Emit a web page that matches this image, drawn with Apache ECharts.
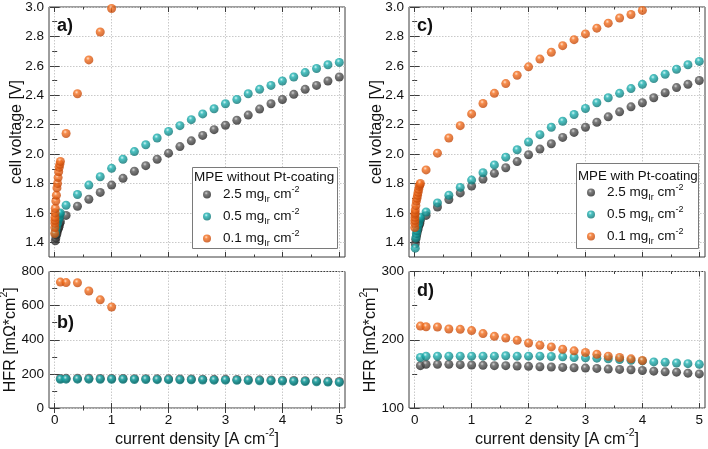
<!DOCTYPE html>
<html><head><meta charset="utf-8">
<script src="https://cdn.jsdelivr.net/npm/echarts@6/dist/echarts.min.js"></script>
<style>html,body{margin:0;padding:0;background:#fff}#c{width:708px;height:449px}</style>
</head><body><div id="c"></div>
<script>
// ---------------- DATA ----------------
const jLow  = [0.01,0.02,0.03,0.04,0.05,0.06,0.07,0.08,0.09,0.10];
const jMain = [0.2,0.4,0.6,0.8,1.0,1.2,1.4,1.6,1.8,2.0,2.2,2.4,2.6,2.8,3.0,3.2,3.4,3.6,3.8,4.0,4.2,4.4,4.6,4.8,5.0];
const jHFR  = [0.1,0.2,0.4,0.6,0.8,1.0,1.2,1.4,1.6,1.8,2.0,2.2,2.4,2.6,2.8,3.0,3.2,3.4,3.6,3.8,4.0,4.2,4.4,4.6,4.8,5.0];

// a) polarization, MPE without Pt-coating
const aGrayLowV = [1.41,1.43,1.45,1.46,1.48,1.49,1.50,1.51,1.53,1.54];
const aGrayV    = [1.583,1.645,1.693,1.739,1.789,1.835,1.883,1.921,1.965,2.006,2.051,2.090,2.127,2.166,2.196,2.230,2.265,2.306,2.342,2.371,2.406,2.440,2.467,2.497,2.524];
const aCyanLowV = [1.46,1.48,1.50,1.52,1.53,1.55,1.56,1.57,1.59,1.60];
const aCyanV    = [1.652,1.725,1.789,1.846,1.903,1.965,2.017,2.063,2.109,2.154,2.193,2.234,2.273,2.308,2.342,2.371,2.410,2.440,2.467,2.497,2.524,2.554,2.582,2.607,2.623];
const aOrangeJ  = [0.001,0.002,0.003,0.004,0.005,0.0075,0.01,0.02,0.03,0.04,0.05,0.06,0.07,0.08,0.09,0.10,0.2,0.4,0.6,0.8,1.0];
const aOrangeV  = [1.46,1.50,1.53,1.55,1.57,1.60,1.63,1.68,1.72,1.77,1.80,1.84,1.88,1.91,1.93,1.95,2.14,2.41,2.64,2.83,2.99];

// b) HFR, MPE without Pt-coating
const bGrayV   = [173,174,174,174,173,173,173,172,172,171,171,170,170,169,168,168,167,166,165,164,163,161,160,159,157,155];
const bCyanV   = [168,169,169,169,168,168,168,167,167,166,166,165,165,164,163,163,162,161,160,159,158,156,155,154,152,150];
const bOrangeJ = [0.1,0.2,0.4,0.6,0.8,1.0];
const bOrangeV = [738,735,734,686,634,592];

// c) polarization, MPE with Pt-coating
const cGrayLowV = [1.39,1.42,1.44,1.46,1.48,1.49,1.51,1.52,1.53,1.55];
const cGrayV    = [1.583,1.640,1.691,1.736,1.782,1.830,1.869,1.907,1.949,1.995,2.034,2.070,2.113,2.147,2.182,2.216,2.253,2.287,2.321,2.349,2.383,2.417,2.452,2.474,2.500];
const cCyanLowV = [1.36,1.43,1.46,1.48,1.50,1.52,1.53,1.55,1.56,1.57];
const cCyanV    = [1.606,1.668,1.720,1.773,1.823,1.873,1.926,1.979,2.029,2.082,2.132,2.182,2.223,2.269,2.310,2.349,2.383,2.413,2.445,2.474,2.513,2.543,2.577,2.607,2.630];
const cOrangeLowJ = [0.001,0.002,0.003,0.004,0.005,0.0075,0.01,0.02,0.03,0.04,0.05,0.06,0.07,0.08,0.09,0.10];
const cOrangeLowV = [1.50,1.53,1.55,1.57,1.59,1.60,1.62,1.65,1.68,1.70,1.72,1.74,1.76,1.78,1.79,1.80];
const cOrangeJ  = [0.2,0.4,0.6,0.8,1.0,1.2,1.4,1.6,1.8,2.0,2.2,2.4,2.6,2.8,3.0,3.2,3.4,3.6,3.8,4.0];
const cOrangeV  = [1.892,2.006,2.109,2.193,2.273,2.344,2.413,2.479,2.536,2.593,2.646,2.692,2.737,2.778,2.817,2.856,2.890,2.925,2.949,2.977];

// d) HFR, MPE with Pt-coating
const dGrayV   = [162,164,164,164,163.5,163,162.5,162,162,161.5,161,160.5,160,159.5,159,158.5,158,157,156.5,156,155,154,153,152.5,151,150];
const dCyanV   = [174,176,176,176,176,176,176,176,176.5,176,176,176,175.5,175,174,173.5,173,172,171,170,169,167.5,167,166,165,164];
const dOrangeJ = [0.1,0.2,0.4,0.6,0.8,1.0,1.2,1.4,1.6,1.8,2.0,2.2,2.4,2.6,2.8,3.0,3.2,3.4,3.6,3.8,4.0];
const dOrangeV = [220,219,218.7,215.8,215.3,213.4,209,205,202.6,199.3,195.3,192,189.5,186.1,183.7,181.3,178.8,175.9,174,172,169.6];

// tick values
const xMajor = [0,1,2,3,4,5];
const xMinor = [0.5,1.5,2.5,3.5,4.5];
const vMajor = [1.4,1.6,1.8,2.0,2.2,2.4,2.6,2.8,3.0];
const vMinor = [1.5,1.7,1.9,2.1,2.3,2.5,2.7,2.9];
const hMajorB = [0,200,400,600,800];
const hMinorB = [100,300,500,700];
const hMajorD = [100,200,300];
const hMinorD = [150,250];
const loadings = ['2.5','0.5','0.1'];

// ---------------- STYLE ----------------
const FONT = '"Liberation Sans", Arial, sans-serif';
const AX = '#3c3c3c';
const TXT = '#111';
function sphere(base, light, dark){
  return {type:'radial', x:0.4, y:0.33, r:0.7, colorStops:[
    {offset:0,color:light},{offset:0.3,color:base},{offset:1,color:dark}]};
}
const COL = {
  '2.5': sphere('#5c5c5c','#c8c8c8','#222'),
  '0.5': sphere('#1fb3b3','#c6f4f4','#0a6f6f'),
  '0.1': sphere('#f5701f','#ffd8bd','#bf4508')
};

const grids = [
  {left:49, top:7,     width:296, height:250},
  {left:49, top:271.5, width:296, height:136.5},
  {left:409, top:7,    width:296, height:250},
  {left:409, top:271.5,width:296, height:136.5}
];
grids.forEach(g=>{g.show=true;g.borderColor=AX;g.borderWidth=1;g.backgroundColor='transparent';g.containLabel=false;g.outerBoundsMode='none';});

const xAxes=[], yAxes=[];
const nameStyle = {fontSize:16, fontFamily:FONT, color:TXT, lineHeight:24,
  rich:{sup:{fontSize:10.5, fontFamily:FONT, color:TXT, verticalAlign:'top', lineHeight:12}}};
function addAxes(gi, cfg){
  const base = {gridIndex:gi, type:'value', axisLine:{show:false}, splitLine:{show:false}, axisLabel:{show:false}};
  const tick = (vals,len)=>({show:true, inside:true, length:len, customValues:vals, lineStyle:{color:AX,width:1}});
  // x axes
  xAxes.push(Object.assign({}, base, {min:-0.1, max:5.1, position:'bottom', axisTick:tick(xMajor,5),
    axisLabel:{show:cfg.xLabels, customValues:xMajor, margin:5, fontSize:13.5, fontFamily:FONT, color:TXT},
    splitLine:{show:true, lineStyle:{color:'#c9c9c9', type:[1.5,1.5], width:1}},
    name: cfg.xLabels ? 'current density [A cm{sup|-2}]' : '', nameLocation:'middle', nameGap:20, nameMoveOverlap:false,
    nameTextStyle:nameStyle}));
  xAxes.push(Object.assign({}, base, {min:-0.1, max:5.1, position:'bottom', axisTick:tick(xMinor,2.5)}));
  xAxes.push(Object.assign({}, base, {min:-0.1, max:5.1, position:'top', axisTick:tick(xMajor,5)}));
  xAxes.push(Object.assign({}, base, {min:-0.1, max:5.1, position:'top', axisTick:tick(xMinor,2.5)}));
  // y axes
  yAxes.push(Object.assign({}, base, {min:cfg.yMin, max:cfg.yMax, position:'left', axisTick:tick(cfg.yMaj,5),
    axisLabel:{show:true, customValues:cfg.yMaj, margin:5, fontSize:13.5, fontFamily:FONT, color:TXT, formatter:cfg.yFmt},
    splitLine:{show:true, lineStyle:{color:'#c9c9c9', type:[1.5,1.5], width:1}},
    name:cfg.yName, nameLocation:'middle', nameGap:cfg.nameGap, nameRotate:90, nameMoveOverlap:false,
    nameTextStyle:nameStyle}));
  yAxes.push(Object.assign({}, base, {min:cfg.yMin, max:cfg.yMax, position:'left', axisTick:tick(cfg.yMin2,2.5)}));
  yAxes.push(Object.assign({}, base, {min:cfg.yMin, max:cfg.yMax, position:'right', axisTick:tick(cfg.yMaj,5)}));
  yAxes.push(Object.assign({}, base, {min:cfg.yMin, max:cfg.yMax, position:'right', axisTick:tick(cfg.yMin2,2.5)}));
}
const fmtV = v=>v.toFixed(1);
const fmtH = v=>String(Math.round(v));
addAxes(0,{xLabels:false, yMin:1.3, yMax:3.0, yMaj:vMajor, yMin2:vMinor, yFmt:fmtV, yName:'cell voltage [V]', nameGap:20});
addAxes(1,{xLabels:true,  yMin:0,   yMax:800, yMaj:hMajorB, yMin2:hMinorB, yFmt:fmtH, yName:'HFR [mΩ*cm{sup|2}]', nameGap:26});
addAxes(2,{xLabels:false, yMin:1.3, yMax:3.0, yMaj:vMajor, yMin2:vMinor, yFmt:fmtV, yName:'cell voltage [V]', nameGap:20});
addAxes(3,{xLabels:true,  yMin:100, yMax:300, yMaj:hMajorD, yMin2:hMinorD, yFmt:fmtH, yName:'HFR [mΩ*cm{sup|2}]', nameGap:26});

const zip = (xs,ys)=>xs.map((x,i)=>[x,ys[i]]);
const series=[];
function sc(gi, name, data, z){
  series.push({type:'scatter', name, xAxisIndex:4*gi, yAxisIndex:4*gi, data, symbol:'circle', symbolSize:9,
    itemStyle:{color:COL[name]}, z, clip:false, emphasis:{disabled:true}, silent:true});
}
sc(0,'2.5',zip(jLow,aGrayLowV).concat(zip(jMain,aGrayV)),2);
sc(0,'0.5',zip(jLow,aCyanLowV).concat(zip(jMain,aCyanV)),3);
sc(0,'0.1',zip(aOrangeJ,aOrangeV),4);
sc(1,'2.5',zip(jHFR,bGrayV),2);
sc(1,'0.5',zip(jHFR,bCyanV),3);
sc(1,'0.1',zip(bOrangeJ,bOrangeV),4);
sc(2,'2.5',zip(jLow,cGrayLowV).concat(zip(jMain,cGrayV)),2);
sc(2,'0.5',zip(jLow,cCyanLowV).concat(zip(jMain,cCyanV)),3);
sc(2,'0.1',zip(cOrangeLowJ,cOrangeLowV).concat(zip(cOrangeJ,cOrangeV)),4);
sc(3,'2.5',zip(jHFR,dGrayV),2);
sc(3,'0.5',zip(jHFR,dCyanV),3);
sc(3,'0.1',zip(dOrangeJ,dOrangeV),4);

function legendAt(left, top){
  return {data:loadings, orient:'vertical', left, top, itemWidth:8, itemHeight:8, itemGap:3, icon:'circle',
    selectedMode:false, z:6, padding:0,
    textStyle:{fontFamily:FONT, fontSize:13.5, color:TXT, lineHeight:19, padding:[0,0,0,7],
      rich:{sub:{fontSize:9, fontFamily:FONT, color:TXT, verticalAlign:'bottom', lineHeight:12},
            sup:{fontSize:9, fontFamily:FONT, color:TXT, verticalAlign:'top', lineHeight:12}}},
    formatter: n => n + ' mg{sub|Ir} cm{sup|-2}'};
}
const txt = (x,y,s,size,bold)=>({type:'text', x, y, z:5, style:{text:s, fontSize:size, fontWeight:bold?'bold':'normal', fontFamily:FONT, fill:TXT, verticalAlign:'middle'}});
const graphic = [
  {type:'rect', z:4, shape:{x:192.5,y:167.5,width:145,height:81}, style:{fill:'#fff', stroke:'#7a7a7a', lineWidth:1}},
  txt(194,177,'MPE without Pt-coating',13.5,false),
  {type:'rect', z:4, shape:{x:576.5,y:163.5,width:122,height:85}, style:{fill:'#fff', stroke:'#7a7a7a', lineWidth:1}},
  txt(578,176,'MPE with Pt-coating',13.3,false),
  txt(57,26,'a)',18,true),
  txt(57,323,'b)',18,true),
  txt(417,26,'c)',18,true),
  txt(417,291,'d)',18,true)
];

const chart = echarts.init(document.getElementById('c'), null, {renderer:'canvas'});
chart.setOption({
  animation:false, backgroundColor:'#fff',
  grid:grids, xAxis:xAxes, yAxis:yAxes, series,
  legend:[legendAt(203,185), legendAt(587,183)],
  graphic
});
</script></body></html>
